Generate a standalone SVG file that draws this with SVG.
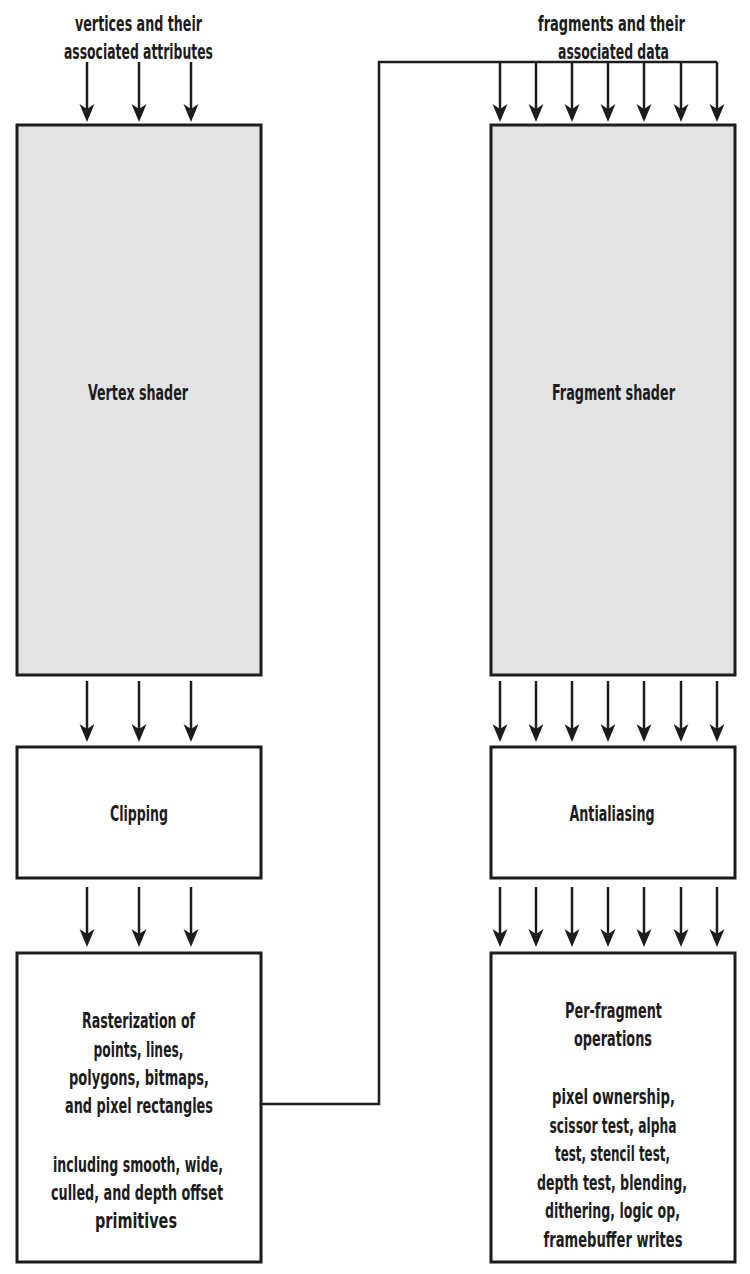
<svg xmlns="http://www.w3.org/2000/svg" width="750" height="1274" viewBox="0 0 750 1274">
<style>
.box{fill:#fff;stroke:#1c1c1c;stroke-width:3}
.gray{fill:#e1e3e4}
.t{font-family:"DejaVu Sans Condensed","Liberation Sans",sans-serif;font-weight:bold;font-size:21px;fill:#1c1c1c;text-anchor:middle}
.c line,.c path{stroke:#1c1c1c;stroke-width:2.5;fill:none}
</style>
<defs>
<marker id="ah" markerUnits="userSpaceOnUse" markerWidth="18" markerHeight="16" viewBox="0 -8 18 16" refX="10" refY="0" orient="auto">
<path d="M0,-7.5 L5,0 L0,7.5 L18,0 Z" fill="#1c1c1c"/>
</marker>
</defs>
<rect width="750" height="1274" fill="#fff"/>
<g id="vertex-shader"><rect class="box gray" x="17" y="125" width="244" height="550"/><text class="t" x="138" y="400" textLength="100" lengthAdjust="spacingAndGlyphs">Vertex shader</text></g>
<g id="clipping"><rect class="box" x="17" y="747" width="244" height="131"/><text class="t" x="139" y="821" textLength="58" lengthAdjust="spacingAndGlyphs">Clipping</text></g>
<g id="rasterization"><rect class="box" x="17" y="953" width="244" height="309"/>
<text class="t" x="138.5" y="1028" textLength="113" lengthAdjust="spacingAndGlyphs">Rasterization of</text>
<text class="t" x="138.5" y="1057" textLength="90" lengthAdjust="spacingAndGlyphs">points, lines,</text>
<text class="t" x="139" y="1085" textLength="140" lengthAdjust="spacingAndGlyphs">polygons, bitmaps,</text>
<text class="t" x="139" y="1113" textLength="148" lengthAdjust="spacingAndGlyphs">and pixel rectangles</text>
<text class="t" x="138" y="1172" textLength="170" lengthAdjust="spacingAndGlyphs">including smooth, wide,</text>
<text class="t" x="137" y="1200" textLength="172" lengthAdjust="spacingAndGlyphs">culled, and depth offset</text>
<text class="t" x="136" y="1228" textLength="82" lengthAdjust="spacingAndGlyphs">primitives</text>
</g>
<g id="fragment-shader"><rect class="box gray" x="491" y="125" width="244" height="550"/><text class="t" x="613.5" y="400" textLength="123" lengthAdjust="spacingAndGlyphs">Fragment shader</text></g>
<g id="antialiasing"><rect class="box" x="491" y="747" width="244" height="131"/><text class="t" x="612" y="821" textLength="85" lengthAdjust="spacingAndGlyphs">Antialiasing</text></g>
<g id="per-fragment"><rect class="box" x="491" y="953" width="244" height="309"/>
<text class="t" x="613.5" y="1018" textLength="97" lengthAdjust="spacingAndGlyphs">Per-fragment</text>
<text class="t" x="613" y="1046" textLength="78" lengthAdjust="spacingAndGlyphs">operations</text>
<text class="t" x="613.5" y="1104" textLength="123" lengthAdjust="spacingAndGlyphs">pixel ownership,</text>
<text class="t" x="613" y="1133" textLength="127" lengthAdjust="spacingAndGlyphs">scissor test, alpha</text>
<text class="t" x="612.5" y="1161" textLength="115" lengthAdjust="spacingAndGlyphs">test, stencil test,</text>
<text class="t" x="612" y="1190" textLength="150" lengthAdjust="spacingAndGlyphs">depth test, blending,</text>
<text class="t" x="612.5" y="1218" textLength="135" lengthAdjust="spacingAndGlyphs">dithering, logic op,</text>
<text class="t" x="613" y="1247" textLength="139" lengthAdjust="spacingAndGlyphs">framebuffer writes</text>
</g>
<g id="labels">
<text class="t" x="138.5" y="31" textLength="127" lengthAdjust="spacingAndGlyphs">vertices and their</text>
<text class="t" x="138.5" y="59" textLength="149" lengthAdjust="spacingAndGlyphs">associated attributes</text>
<text class="t" x="611.5" y="31" textLength="147" lengthAdjust="spacingAndGlyphs">fragments and their</text>
<text class="t" x="613.5" y="59" textLength="111" lengthAdjust="spacingAndGlyphs">associated data</text>
</g>
<g id="connectors" class="c">
<path d="M261,1104 H379 V62 H717"/>
<line x1="87" y1="62" x2="87" y2="114" marker-end="url(#ah)"/>
<line x1="139" y1="62" x2="139" y2="114" marker-end="url(#ah)"/>
<line x1="191" y1="62" x2="191" y2="114" marker-end="url(#ah)"/>
<line x1="87" y1="681" x2="87" y2="734" marker-end="url(#ah)"/>
<line x1="139" y1="681" x2="139" y2="734" marker-end="url(#ah)"/>
<line x1="191" y1="681" x2="191" y2="734" marker-end="url(#ah)"/>
<line x1="87" y1="887" x2="87" y2="939" marker-end="url(#ah)"/>
<line x1="139" y1="887" x2="139" y2="939" marker-end="url(#ah)"/>
<line x1="191" y1="887" x2="191" y2="939" marker-end="url(#ah)"/>
<line x1="500" y1="62" x2="500" y2="114" marker-end="url(#ah)"/>
<line x1="536" y1="62" x2="536" y2="114" marker-end="url(#ah)"/>
<line x1="572" y1="62" x2="572" y2="114" marker-end="url(#ah)"/>
<line x1="608" y1="62" x2="608" y2="114" marker-end="url(#ah)"/>
<line x1="644" y1="62" x2="644" y2="114" marker-end="url(#ah)"/>
<line x1="681" y1="62" x2="681" y2="114" marker-end="url(#ah)"/>
<line x1="717" y1="62" x2="717" y2="114" marker-end="url(#ah)"/>
<line x1="500" y1="681" x2="500" y2="734" marker-end="url(#ah)"/>
<line x1="536" y1="681" x2="536" y2="734" marker-end="url(#ah)"/>
<line x1="572" y1="681" x2="572" y2="734" marker-end="url(#ah)"/>
<line x1="608" y1="681" x2="608" y2="734" marker-end="url(#ah)"/>
<line x1="644" y1="681" x2="644" y2="734" marker-end="url(#ah)"/>
<line x1="681" y1="681" x2="681" y2="734" marker-end="url(#ah)"/>
<line x1="717" y1="681" x2="717" y2="734" marker-end="url(#ah)"/>
<line x1="500" y1="887" x2="500" y2="939" marker-end="url(#ah)"/>
<line x1="536" y1="887" x2="536" y2="939" marker-end="url(#ah)"/>
<line x1="572" y1="887" x2="572" y2="939" marker-end="url(#ah)"/>
<line x1="608" y1="887" x2="608" y2="939" marker-end="url(#ah)"/>
<line x1="644" y1="887" x2="644" y2="939" marker-end="url(#ah)"/>
<line x1="681" y1="887" x2="681" y2="939" marker-end="url(#ah)"/>
<line x1="717" y1="887" x2="717" y2="939" marker-end="url(#ah)"/>
</g>
</svg>
